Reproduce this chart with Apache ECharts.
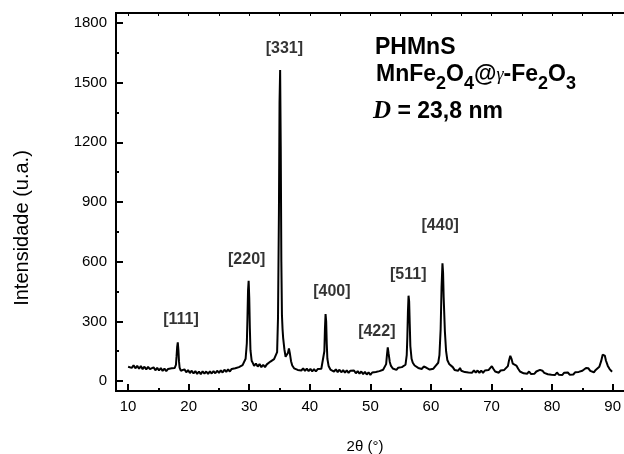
<!DOCTYPE html>
<html>
<head>
<meta charset="utf-8">
<script src="https://cdn.jsdelivr.net/npm/echarts@6/dist/echarts.min.js"></script>
<style>
  html, body { margin: 0; padding: 0; background: #fff; }
  #wrap { position: relative; width: 624px; height: 454px; overflow: hidden; }
  #chart { width: 624px; height: 454px; }
  /* plot frame: left, top and bottom sides (the right side lies past the edge) */
  #frame {
    position: absolute; left: 115px; top: 12px; width: 520px; height: 376px;
    border-left: 2px solid #000; border-top: 2px solid #000; border-bottom: 2px solid #000;
    pointer-events: none;
  }
</style>
</head>
<body>
<div id="wrap">
  <div id="chart"></div>
  <div id="frame"></div>
</div>
<script>
// XRD pattern of PHMnS (MnFe2O4@γ-Fe2O3): 2θ positions and measured intensities
const twoTheta = [
  10.0, 10.3, 10.6, 10.9, 11.2, 11.5, 11.8, 12.1, 12.4, 12.7, 13.0, 13.3, 13.6, 13.9, 14.2, 14.5, 14.8, 15.1, 15.4, 15.7,
  16.0, 16.3, 16.6, 16.9, 17.2, 17.5, 17.7, 17.9, 18.0, 18.1, 18.2, 18.3, 18.4, 18.5, 18.7, 19.0, 19.3, 19.6, 19.9, 20.2,
  20.5, 20.8, 21.1, 21.4, 21.7, 22.0, 22.3, 22.6, 22.9, 23.2, 23.5, 23.8, 24.1, 24.4, 24.7, 25.0, 25.3, 25.6, 25.9, 26.2,
  26.5, 26.8, 27.1, 27.4, 27.7, 28.0, 28.3, 28.6, 28.9, 29.2, 29.4, 29.6, 29.7, 29.8, 29.9, 30.0, 30.1, 30.2, 30.4, 30.6,
  30.8, 31.1, 31.4, 31.7, 32.0, 32.3, 32.6, 32.9, 33.2, 33.5, 33.8, 34.1, 34.4, 34.6, 34.75, 34.9, 35.0, 35.1, 35.2, 35.3,
  35.4, 35.5, 35.6, 35.8, 36.0, 36.2, 36.4, 36.55, 36.7, 36.9, 37.1, 37.4, 37.7, 38.0, 38.3, 38.6, 38.9, 39.2, 39.5, 39.8,
  40.1, 40.4, 40.7, 41.0, 41.3, 41.6, 41.9, 42.2, 42.4, 42.5, 42.6, 42.7, 42.8, 42.9, 43.1, 43.4, 43.7, 44.0, 44.3, 44.6,
  44.9, 45.2, 45.5, 45.8, 46.1, 46.4, 46.7, 47.0, 47.3, 47.6, 47.9, 48.2, 48.5, 48.8, 49.1, 49.4, 49.7, 50.0, 50.3, 50.6,
  50.9, 51.2, 51.5, 51.8, 52.1, 52.4, 52.6, 52.75, 52.87, 53.0, 53.2, 53.4, 53.7, 54.0, 54.3, 54.6, 54.9, 55.2, 55.5, 55.8,
  56.0, 56.1, 56.2, 56.3, 56.4, 56.5, 56.6, 56.8, 57.0, 57.3, 57.6, 57.9, 58.2, 58.5, 58.8, 59.0, 59.2, 59.5, 59.8, 60.1,
  60.4, 60.7, 61.0, 61.2, 61.4, 61.6, 61.75, 61.9, 62.0, 62.1, 62.3, 62.5, 62.7, 63.0, 63.3, 63.6, 63.9, 64.2, 64.5, 64.8,
  65.0, 65.3, 65.6, 65.9, 66.2, 66.5, 66.8, 67.1, 67.4, 67.7, 68.0, 68.3, 68.6, 68.9, 69.2, 69.5, 69.8, 70.05, 70.3, 70.6,
  70.9, 71.2, 71.5, 71.8, 72.1, 72.4, 72.7, 72.9, 73.1, 73.3, 73.5, 73.8, 74.1, 74.4, 74.7, 75.0, 75.3, 75.6, 75.9, 76.2,
  76.5, 76.8, 77.1, 77.4, 77.7, 78.0, 78.2, 78.4, 78.7, 79.0, 79.3, 79.6, 79.9, 80.2, 80.5, 80.8, 81.1, 81.4, 81.7, 82.0,
  82.3, 82.6, 82.9, 83.2, 83.5, 83.8, 84.1, 84.4, 84.7, 85.0, 85.3, 85.6, 85.8, 86.0, 86.3, 86.6, 86.9, 87.2, 87.5, 87.8,
  88.1, 88.35, 88.5, 88.7, 88.9, 89.2, 89.5, 89.9
];
const intensity = [
  72, 82, 66, 79, 64, 77, 62, 75, 60, 72, 59, 71, 60, 57, 69, 54, 67, 53, 65, 51,
  62, 50, 61, 51, 64, 54, 66, 82, 125, 172, 195, 158, 100, 68, 52, 48, 59, 44, 55, 40,
  52, 38, 50, 36, 48, 35, 49, 37, 48, 36, 49, 38, 50, 39, 52, 41, 54, 43, 57, 46,
  59, 48, 61, 51, 64, 58, 70, 66, 80, 88, 112, 190, 310, 455, 504, 420, 265, 155, 102, 90,
  76, 88, 73, 85, 70, 82, 70, 84, 84, 98, 103, 110, 113, 145, 320, 850, 1400, 1564, 1180, 600,
  330, 260, 216, 160, 122, 120, 142, 164, 140, 100, 78, 64, 67, 56, 66, 53, 64, 51, 62, 50,
  61, 49, 60, 48, 60, 52, 62, 72, 150, 265, 337, 300, 185, 112, 76, 58, 60, 48, 59, 45,
  57, 44, 55, 42, 54, 41, 52, 42, 53, 39, 50, 37, 48, 35, 46, 33, 44, 31, 43, 33,
  46, 36, 50, 46, 57, 60, 85, 135, 169, 140, 96, 76, 63, 68, 56, 67, 57, 70, 66, 82,
  130, 220, 350, 429, 400, 285, 175, 112, 92, 78, 78, 66, 71, 61, 73, 80, 68, 68, 58, 68,
  62, 74, 76, 92, 130, 260, 470, 592, 545, 420, 250, 150, 106, 86, 76, 70, 56, 61, 52, 66,
  52, 56, 45, 55, 43, 53, 42, 54, 42, 53, 41, 52, 41, 53, 48, 55, 62, 75, 62, 48,
  52, 42, 53, 43, 56, 56, 75, 105, 127, 112, 88, 82, 78, 62, 48, 50, 39, 49, 37, 48,
  36, 46, 37, 48, 46, 56, 59, 52, 41, 45, 34, 44, 32, 42, 31, 43, 32, 42, 31, 42,
  32, 43, 32, 42, 33, 44, 35, 46, 44, 52, 55, 66, 70, 64, 51, 54, 44, 56, 58, 72,
  100, 132, 139, 128, 102, 76, 60, 47
];

// Miller indices of the spinel reflections and where their tags sit (data units)
const hklLabels = ['[111]', '[220]', '[331]', '[400]', '[422]', '[511]', '[440]'];
const hklLabel2Theta = [18.74, 29.58, 35.8, 43.65, 51.06, 56.25, 61.53];
const hklLabelIntensity = [307, 608, 1669, 452, 248, 536, 779];

// Tick positions
const xMajorTicks = [10, 20, 30, 40, 50, 60, 70, 80, 90];
const xMinorTicks = [15, 25, 35, 45, 55, 65, 75, 85];
const xTopTicks = [10, 15, 20, 25, 30, 35, 40, 45, 50, 55, 60, 65, 70, 75, 80, 85, 90];
const yMajorTicks = [0, 300, 600, 900, 1200, 1500, 1800];
const yMinorTicks = [150, 450, 750, 1050, 1350, 1650];

const SANS = "'Liberation Sans', Arial, Helvetica, sans-serif";
const SERIF = "'Liberation Serif', 'Times New Roman', serif";

const chart = echarts.init(document.getElementById('chart'));

// plot area; the 2θ axis runs on past the right edge of the canvas
const plot = { left: 116, top: 13, right: 0, bottom: 63 };
const xRange = { min: 8, max: 91.2 };
const yRange = { min: -50, max: 1850 };

const plainNumber = v => String(Math.round(v));

function tickAxis(position, range, ticks, len, width, labels) {
  return {
    type: 'value', position, ...range,
    axisLine: { show: false, onZero: false },
    axisTick: { show: true, inside: true, length: len, customValues: ticks, lineStyle: { color: '#000', width } },
    axisLabel: labels
      ? { show: true, customValues: ticks, formatter: plainNumber, fontSize: 15, fontFamily: SANS, color: '#000', ...labels }
      : { show: false },
    splitLine: { show: false }
  };
}

chart.setOption({
  animation: false,
  grid: { ...plot },
  xAxis: [
    tickAxis('bottom', xRange, xMajorTicks, 7, 2, { margin: 8 }),
    tickAxis('bottom', xRange, xMinorTicks, 3, 2),
    tickAxis('top', xRange, xTopTicks, 3, 1)
  ],
  yAxis: [
    tickAxis('left', yRange, yMajorTicks, 7, 2, { margin: 9 }),
    tickAxis('left', yRange, yMinorTicks, 3, 2)
  ],
  series: [
    {
      name: 'PHMnS',
      type: 'line',
      xAxisIndex: 0,
      yAxisIndex: 0,
      showSymbol: false,
      smooth: false,
      lineStyle: { color: '#000', width: 2 },
      data: twoTheta.map((t, i) => [t, intensity[i]]),
      z: 3
    },
    {
      name: 'hkl',
      type: 'scatter',
      xAxisIndex: 0,
      yAxisIndex: 0,
      symbolSize: 0,
      silent: true,
      label: {
        show: true,
        position: 'inside',
        formatter: '{b}',
        fontFamily: SANS,
        fontWeight: 'bold',
        fontSize: 16,
        color: '#000'
      },
      data: hklLabels.map((n, i) => ({ name: n, value: [hklLabel2Theta[i], hklLabelIntensity[i]] })),
      z: 4
    }
  ],
  graphic: [
    {
      type: 'text', x: 22, y: 228, rotation: Math.PI / 2,
      style: { text: 'Intensidade (u.a.)', fontFamily: SANS, fontSize: 20, fill: '#000', align: 'center', verticalAlign: 'middle' }
    },
    {
      type: 'text', x: 365, y: 447,
      style: { text: '2θ (°)', fontFamily: SANS, fontSize: 15, fill: '#000', align: 'center', verticalAlign: 'middle' }
    },
    {
      type: 'text', x: 375, y: 47.5,
      style: { text: 'PHMnS', fontFamily: SANS, fontWeight: 'bold', fontSize: 23, fill: '#000', align: 'left', verticalAlign: 'middle' }
    },
    {
      type: 'text', x: 376, y: 75,
      style: {
        text: '{b|MnFe}{s|2}{b|O}{s|4}{b|@}{g|γ}{b|-Fe}{s|2}{b|O}{s|3}',
        align: 'left', verticalAlign: 'middle', fill: '#000',
        rich: {
          b: { fontFamily: SANS, fontWeight: 'bold', fontSize: 23, lineHeight: 36, fill: '#000' },
          s: { fontFamily: SANS, fontWeight: 'bold', fontSize: 18, lineHeight: 17, verticalAlign: 'bottom', fill: '#000' },
          g: { fontFamily: SERIF, fontStyle: 'italic', fontSize: 18, lineHeight: 32, fill: '#000' }
        }
      }
    },
    {
      type: 'text', x: 373, y: 112,
      style: {
        text: '{d|D}{r| = 23,8 nm}',
        align: 'left', verticalAlign: 'middle', fill: '#000',
        rich: {
          d: { fontFamily: SERIF, fontStyle: 'italic', fontWeight: 'bold', fontSize: 25, fill: '#000' },
          r: { fontFamily: SANS, fontWeight: 'bold', fontSize: 23, fill: '#000' }
        }
      }
    }
  ]
});
</script>
</body>
</html>
